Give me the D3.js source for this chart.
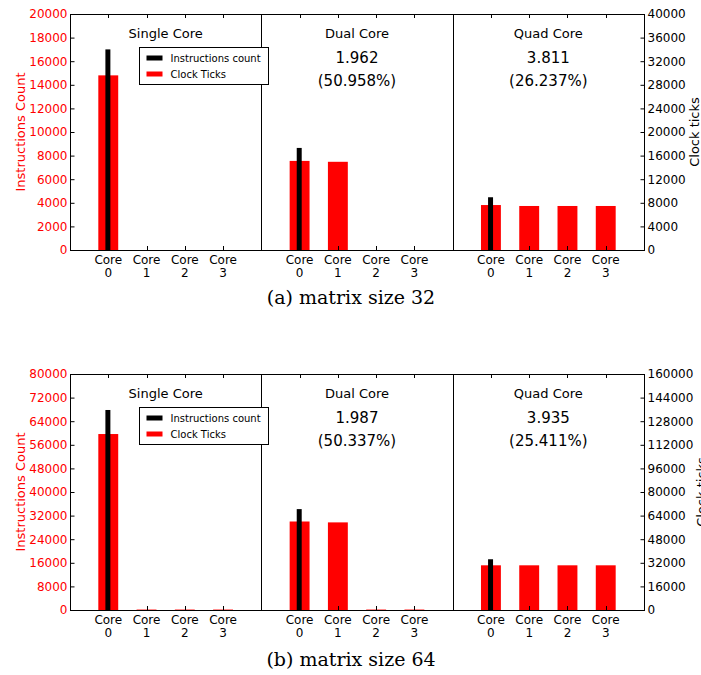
<!DOCTYPE html>
<html>
<head>
<meta charset="utf-8">
<script src="https://cdn.jsdelivr.net/npm/d3@7"></script>
<style>
	body {margin: 0; background: #fff;}
	svg text {font-family: "DejaVu Sans", sans-serif;}
</style>
</head>
<body>
<div id="chart"></div>
<script>
(function(){
	// data
	var coreLabels = ['0', '1', '2', '3'];
	var groupNames = ['Single Core', 'Dual Core', 'Quad Core'];
	var speedup32 = ['', '1.962', '3.811'];
	var percent32 = ['', '(50.958%)', '(26.237%)'];
	var speedup64 = ['', '1.987', '3.935'];
	var percent64 = ['', '(50.337%)', '(25.411%)'];
	// per group: core 0..3
	var instr32  = [[17000, 0, 0, 0], [8650, 0, 0, 0], [4470, 0, 0, 0]];
	var clocks32 = [[29600, 0, 0, 0], [15100, 14950, 0, 0], [7620, 7460, 7460, 7460]];
	var instr64  = [[67800, 0, 0, 0], [34200, 0, 0, 0], [17200, 0, 0, 0]];
	var clocks64 = [[119300, 300, 300, 300], [60000, 59400, 300, 300], [30300, 30300, 30300, 30300]];
	var leftTicks32 = [0, 2000, 4000, 6000, 8000, 10000, 12000, 14000, 16000, 18000, 20000];
	var rightTicks32 = [0, 4000, 8000, 12000, 16000, 20000, 24000, 28000, 32000, 36000, 40000];
	var leftTicks64 = [0, 8000, 16000, 24000, 32000, 40000, 48000, 56000, 64000, 72000, 80000];
	var rightTicks64 = [0, 16000, 32000, 48000, 64000, 80000, 96000, 112000, 128000, 144000, 160000];

	var width = 701, height = 675;
	var svg = d3.select('#chart').append('svg')
		.attr('width', width)
		.attr('height', height);

	var x = d3.scaleLinear().domain([-1, 14]).range([70, 644]);
	var unit = x(1) - x(0);
	var fmt = d3.format('d');

	function pos(g, c) { return g * 5 + c; }

	function panel(top, bottom, instr, clocks, lMax, rMax, lTicks, rTicks, speed, pct, caption, captionY, rLabelX) {
		var yl = d3.scaleLinear().domain([0, lMax]).range([bottom, top]);
		var yr = d3.scaleLinear().domain([0, rMax]).range([bottom, top]);
		var g = svg.append('g');

		var flat = [];
		for (var gi = 0; gi < 3; gi++) {
			for (var c = 0; c < 4; c++) {
				flat.push({g: gi, c: c, instr: instr[gi][c], clocks: clocks[gi][c]});
			}
		}

		// red bars: clock ticks (right scale)
		g.selectAll('.red').data(flat).enter().append('rect')
			.attr('class', 'red')
			.attr('x', function(d) {return x(pos(d.g, d.c)) - unit * 0.26;})
			.attr('width', unit * 0.52)
			.attr('y', function(d) {return yr(d.clocks);})
			.attr('height', function(d) {return Math.max(0, bottom - yr(d.clocks));})
			.style('fill', '#ff0000');

		// black bars: instructions (left scale)
		g.selectAll('.black').data(flat.filter(function(d) {return d.instr > 0;})).enter().append('rect')
			.attr('class', 'black')
			.attr('x', function(d) {return x(pos(d.g, d.c)) - unit * 0.075;})
			.attr('width', unit * 0.13)
			.attr('y', function(d) {return yl(d.instr);})
			.attr('height', function(d) {return bottom - yl(d.instr);})
			.style('fill', '#000');

		// group dividers
		[4, 9].forEach(function(p) {
			g.append('line')
				.attr('x1', Math.round(x(p)) + 0.5).attr('x2', Math.round(x(p)) + 0.5)
				.attr('y1', top).attr('y2', bottom)
				.style('stroke', '#000').style('stroke-width', 1);
		});

		// frame
		g.append('rect')
			.attr('x', 70.5).attr('y', top + 0.5)
			.attr('width', 644 - 70).attr('height', bottom - top)
			.style('fill', 'none').style('stroke', '#000').style('stroke-width', 1);

		// left axis
		var la = g.append('g').attr('transform', 'translate(70.5,0)')
			.call(d3.axisLeft(yl).tickValues(lTicks).tickFormat(fmt).tickSizeInner(-4).tickSizeOuter(0).tickPadding(3));
		la.select('.domain').remove();
		la.selectAll('text').style('fill', '#ff0000').style('font-size', '12px').style('font-family', 'DejaVu Sans');
		la.selectAll('line').style('stroke', '#000');

		// right axis
		var ra = g.append('g').attr('transform', 'translate(644.5,0)')
			.call(d3.axisRight(yr).tickValues(rTicks).tickFormat(fmt).tickSizeInner(-4).tickSizeOuter(0).tickPadding(3));
		ra.select('.domain').remove();
		ra.selectAll('text').style('fill', '#000').style('font-size', '12px').style('font-family', 'DejaVu Sans');

		// x ticks (top and bottom, inward)
		flat.forEach(function(d) {
			var px = Math.round(x(pos(d.g, d.c))) + 0.5;
			g.append('line').attr('x1', px).attr('x2', px).attr('y1', bottom).attr('y2', bottom - 4).style('stroke', '#000');
			g.append('line').attr('x1', px).attr('x2', px).attr('y1', top).attr('y2', top + 4).style('stroke', '#000');
			var t = g.append('text')
				.attr('x', x(pos(d.g, d.c)))
				.attr('text-anchor', 'middle')
				.style('font-size', '12px');
			t.append('tspan').attr('x', x(pos(d.g, d.c))).attr('y', bottom + 14).text('Core');
			t.append('tspan').attr('x', x(pos(d.g, d.c))).attr('y', bottom + 27).text(coreLabels[d.c]);
		});

		// group titles
		groupNames.forEach(function(name, gi) {
			var cx = x(gi * 5 + 1.5);
			g.append('text').attr('x', cx).attr('y', top + 24)
				.attr('text-anchor', 'middle').style('font-size', '13px').text(name);
			if (speed[gi]) {
				g.append('text').attr('x', cx).attr('y', top + 49)
					.attr('text-anchor', 'middle').style('font-size', '15px').text(speed[gi]);
				g.append('text').attr('x', cx).attr('y', top + 72)
					.attr('text-anchor', 'middle').style('font-size', '15px').text(pct[gi]);
			}
		});

		// legend
		var lg = g.append('g').attr('transform', 'translate(139.5,' + (top + 33.5) + ')');
		lg.append('rect').attr('width', 129).attr('height', 37)
			.style('fill', '#fff').style('stroke', '#000').style('stroke-width', 1);
		lg.append('rect').attr('x', 7).attr('y', 8).attr('width', 16).attr('height', 5).style('fill', '#000');
		lg.append('rect').attr('x', 7).attr('y', 24).attr('width', 16).attr('height', 5).style('fill', '#ff0000');
		lg.append('text').attr('x', 31).attr('y', 14.5).style('font-size', '10px').text('Instructions count');
		lg.append('text').attr('x', 31).attr('y', 30.5).style('font-size', '10px').text('Clock Ticks');

		// axis titles
		g.append('text')
			.attr('transform', 'translate(25,' + ((top + bottom) / 2) + ') rotate(-90)')
			.attr('text-anchor', 'middle')
			.style('font-size', '13px').style('fill', '#ff0000')
			.text('Instructions Count');
		g.append('text')
			.attr('transform', 'translate(' + rLabelX + ',' + ((top + bottom) / 2) + ') rotate(-90)')
			.attr('text-anchor', 'middle')
			.style('font-size', '13px').style('fill', '#000')
			.text('Clock ticks');

		// caption
		g.append('text').attr('x', 351).attr('y', captionY)
			.attr('text-anchor', 'middle')
			.style('font-family', '"DejaVu Serif", serif').style('font-size', '19px')
			.text(caption);
	}

	panel(14, 250, instr32, clocks32, 20000, 40000, leftTicks32, rightTicks32, speedup32, percent32, '(a) matrix size 32', 304, 699);
	panel(374, 610, instr64, clocks64, 80000, 160000, leftTicks64, rightTicks64, speedup64, percent64, '(b) matrix size 64', 666, 706);
})();
</script>
</body>
</html>
